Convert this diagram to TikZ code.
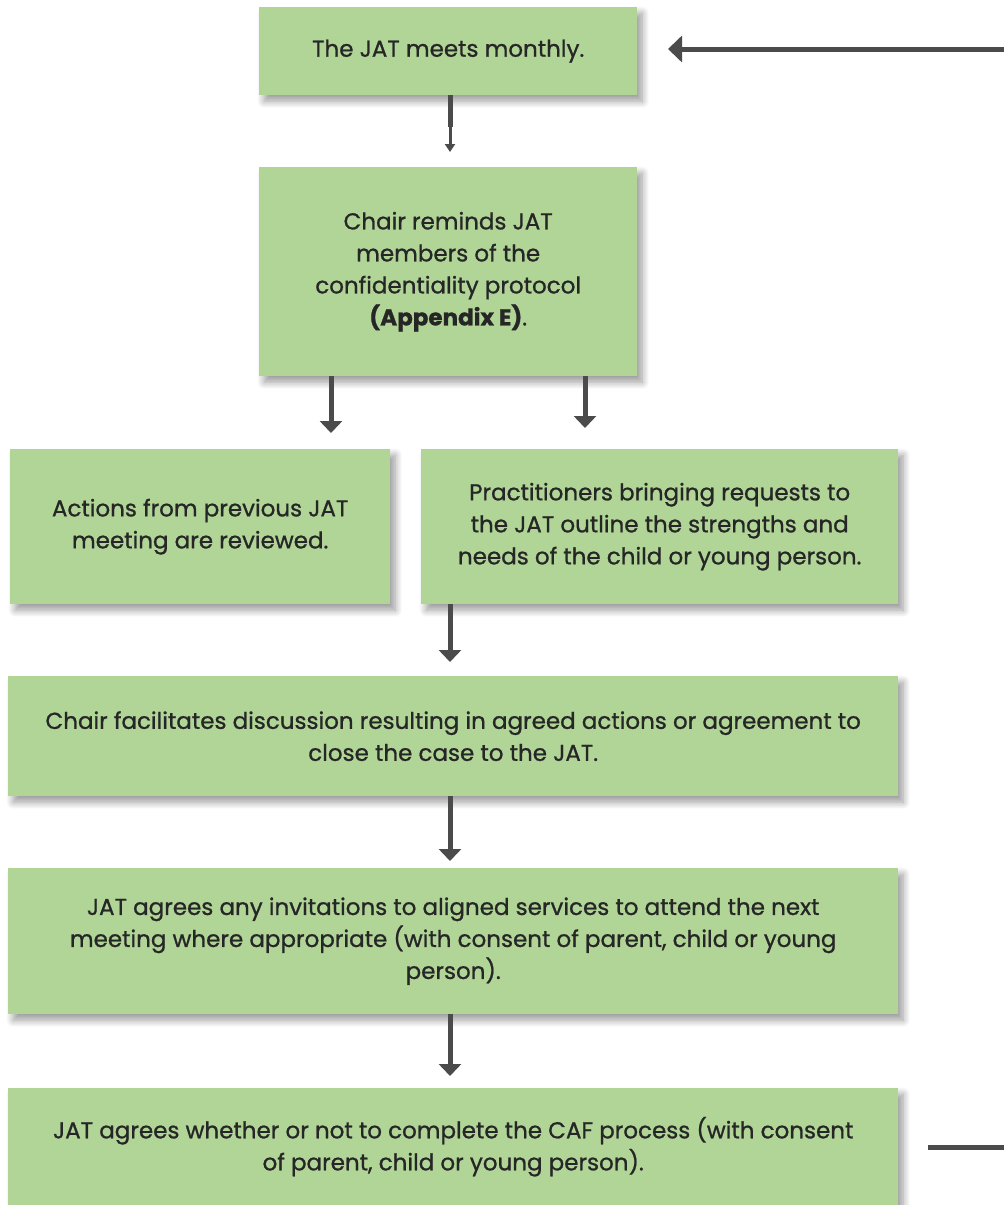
\documentclass[tikz,border=0pt]{standalone}
\usepackage{fontspec}
\setmainfont{Poppins}
\newfontfamily\boxfont{Poppins}[FakeBold=0.9]
\usetikzlibrary{arrows.meta,shadows.blur}
\definecolor{boxgreen}{HTML}{B0D597}
\definecolor{inkgray}{HTML}{4B4B4B}
\definecolor{textdark}{HTML}{262626}
\tikzset{
  stepbox/.style={fill=boxgreen, draw=none, align=center, text=textdark,
    inner sep=0pt, anchor=north west,
    font=\boxfont\fontsize{23}{32}\selectfont,
    blur shadow={shadow xshift=5pt, shadow yshift=-6pt, shadow blur radius=7pt,
      shadow blur steps=12, shadow opacity=40}},
  flow/.style={draw=inkgray, line width=5pt,
    -{Triangle[width=22pt,length=12pt]}, inkgray},
  feedback/.style={draw=inkgray, line width=5pt, inkgray}
}
\begin{document}
\begin{tikzpicture}[x=1pt,y=-1pt]
\useasboundingbox (0,0) rectangle (1004,1205);
\clip (0,0) rectangle (1004,1205);

% process steps
\node[stepbox, minimum width=378pt, minimum height=88pt] (meet) at (259,7)
  {\raisebox{-3pt}{The JAT meets monthly.}};
\node[stepbox, minimum width=378pt, minimum height=209pt] (remind) at (259,167)
  {Chair reminds JAT\\members of the\\confidentiality protocol\\\textbf{(Appendix E)}.};
\node[stepbox, minimum width=380pt, minimum height=155pt] (review) at (10,449)
  {Actions from previous JAT\\meeting are reviewed.};
\node[stepbox, minimum width=477pt, minimum height=155pt] (requests) at (421,449)
  {Practitioners bringing requests to\\the JAT outline the strengths and\\needs of the child or young person.};
\node[stepbox, minimum width=890pt, minimum height=120pt] (discuss) at (8,676)
  {Chair facilitates discussion resulting in agreed actions or agreement to\\close the case to the JAT.};
\node[stepbox, minimum width=890pt, minimum height=146pt] (invite) at (8,868)
  {\raisebox{-2pt}{\parbox{890pt}{\centering JAT agrees any invitations to aligned services to attend the next\\meeting where appropriate (with consent of parent, child or young\\person).}}};
\node[stepbox, minimum width=890pt, minimum height=117pt] (caf) at (8,1088)
  {JAT agrees whether or not to complete the CAF process (with consent\\of parent, child or young person).};

% connectors between steps
\coordinate (meetmid) at (450,127);
\draw[feedback] (meet.south -| meetmid) -- (meetmid);
\draw[draw=inkgray, line width=3pt, -{Triangle[width=10pt,length=8pt]}, inkgray]
  (meetmid) -- (450,152);
\draw[flow] (remind.south -| 331,0) -- (331,433);
\draw[flow] (remind.south -| 585,0) -- (585,428);
\draw[flow] (requests.south -| 450,0) -- (450,662);
\draw[flow] (discuss.south -| 450,0) -- (450,861);
\draw[flow] (invite.south -| 450,0) -- (450,1076);

% loop back from the outcome to the monthly meeting
\coordinate (loopin) at (1004,49);
\coordinate (loopout) at (1004,1147);
\draw[draw=inkgray, line width=5pt, -{Triangle[width=26pt,length=14pt]}, inkgray]
  (loopin) -- (668,49);
\draw[feedback] (928,1147) -- (loopout);
\end{tikzpicture}
\end{document}
